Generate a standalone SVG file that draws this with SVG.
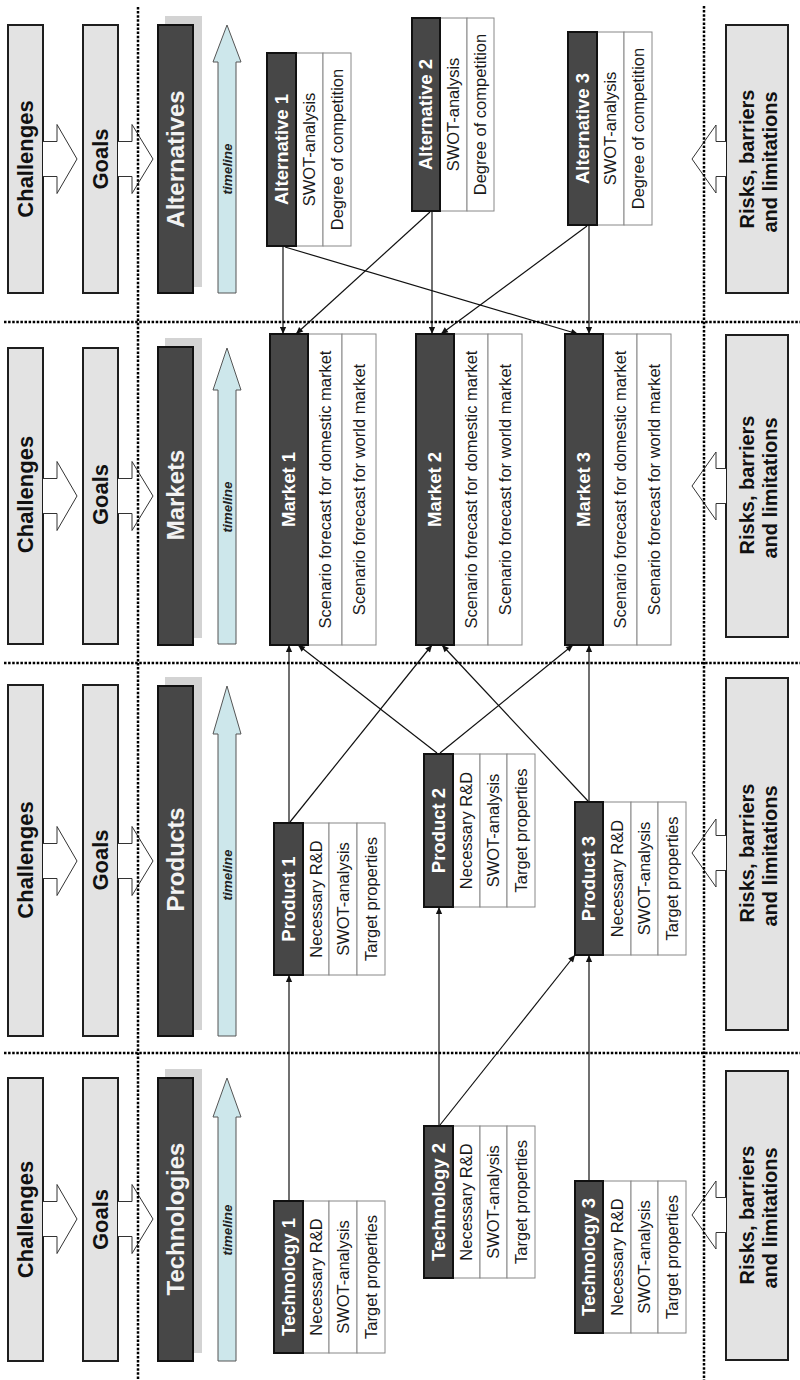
<svg xmlns="http://www.w3.org/2000/svg" width="800" height="1380" viewBox="0 0 800 1380">
<defs>
<style>
.dotted{stroke:#000;stroke-width:2.5;stroke-dasharray:2.5 1.6;fill:none}
.lbox{fill:#e3e3e3;stroke:#1e1e1e;stroke-width:2}
.dbox{fill:#474747;stroke:#111;stroke-width:2}
.shadow{fill:#d3d3d3}
.tl{fill:#cde7eb;stroke:#555;stroke-width:1}
.barrow{fill:#fff;stroke:#333;stroke-width:1}
.hdr{fill:#474747;stroke:#111;stroke-width:2}
.cell{fill:#fff;stroke:#888;stroke-width:1}
.conn{stroke:#111;stroke-width:1.2;fill:none;marker-end:url(#ah)}
text{font-family:"Liberation Sans",Arial,sans-serif;text-anchor:middle}
.tbig{font-size:22px;font-weight:bold;fill:#111}
.tsec{font-size:24px;font-weight:bold;fill:#f2f2f2}
.trisk{font-size:20px;font-weight:bold;fill:#111}
.thdr{font-size:18.5px;font-weight:bold;fill:#fff}
.tcell{font-size:16.5px;fill:#1a1a1a}
.ttl{font-size:13.5px;font-weight:bold;font-style:italic;fill:#222}
</style>
<marker id="ah" viewBox="0 0 10 10" refX="10" refY="5" markerWidth="8" markerHeight="7" markerUnits="userSpaceOnUse" orient="auto"><path d="M0,0.5 L10,5 L0,9.5 z" fill="#111"/></marker>
</defs>

<!-- Left column: Alternatives section -->
<g id="sec-alt">
<rect class="lbox" x="8" y="25" width="35" height="268"/>
<text class="tbig" transform="translate(25.5,159) rotate(-90)" dy="0.35em">Challenges</text>
<path class="barrow" d="M43,141.5 H57 V124.5 L77,159 L57,193.5 V176.5 H43"/>
<rect class="lbox" x="83" y="25" width="35" height="268"/>
<text class="tbig" transform="translate(100.5,159) rotate(-90)" dy="0.35em">Goals</text>
<path class="barrow" d="M118,141.5 H132 V124.5 L153,159 L132,193.5 V176.5 H118"/>
<rect class="shadow" x="165" y="16" width="37" height="271"/>
<rect class="dbox" x="158" y="25" width="35" height="268"/>
<text class="tsec" transform="translate(175.5,159) rotate(-90)" dy="0.35em">Alternatives</text>
<path class="tl" d="M218,293 V62 H213 L227,25 L241,62 H236 V293 Z"/>
<text class="ttl" transform="translate(227,169) rotate(-90)" dy="0.35em">timeline</text>
<rect class="lbox" x="726" y="25" width="62" height="268"/>
<text class="trisk" transform="translate(747,159) rotate(-90)" dy="0.35em">Risks, barriers</text>
<text class="trisk" transform="translate(770,162) rotate(-90)" dy="0.35em">and limitations</text>
<path class="barrow" d="M726,141.5 H716 V125 L692,159 L716,193 V176.5 H726"/>
</g>

<g id="sec-markets">
<rect class="lbox" x="8" y="348" width="35" height="296"/>
<text class="tbig" transform="translate(25.5,494.5) rotate(-90)" dy="0.35em">Challenges</text>
<path class="barrow" d="M43,478.5 H57 V461.5 L77,496 L57,530.5 V513.5 H43"/>
<rect class="lbox" x="83" y="348" width="35" height="296"/>
<text class="tbig" transform="translate(100.5,494.5) rotate(-90)" dy="0.35em">Goals</text>
<path class="barrow" d="M118,478.5 H132 V461.5 L153,496 L132,530.5 V513.5 H118"/>
<rect class="shadow" x="165" y="338" width="37" height="300"/>
<rect class="dbox" x="158" y="347" width="35" height="298"/>
<text class="tsec" transform="translate(175.5,495) rotate(-90)" dy="0.35em">Markets</text>
<path class="tl" d="M218,644 V390 H213 L227,348 L241,390 H236 V644 Z"/>
<text class="ttl" transform="translate(227,507) rotate(-90)" dy="0.35em">timeline</text>
<rect class="lbox" x="726" y="335" width="62" height="302"/>
<text class="trisk" transform="translate(747,485) rotate(-90)" dy="0.35em">Risks, barriers</text>
<text class="trisk" transform="translate(770,488) rotate(-90)" dy="0.35em">and limitations</text>
<path class="barrow" d="M726,468.5 H716 V452 L692,486 L716,520 V503.5 H726"/>
</g>

<g id="sec-products">
<rect class="lbox" x="8" y="685" width="35" height="351"/>
<text class="tbig" transform="translate(25.5,860) rotate(-90)" dy="0.35em">Challenges</text>
<path class="barrow" d="M43,843.5 H57 V826.5 L77,861 L57,895.5 V878.5 H43"/>
<rect class="lbox" x="83" y="685" width="35" height="351"/>
<text class="tbig" transform="translate(100.5,860) rotate(-90)" dy="0.35em">Goals</text>
<path class="barrow" d="M118,843.5 H132 V826.5 L153,861 L132,895.5 V878.5 H118"/>
<rect class="shadow" x="165" y="677" width="37" height="353"/>
<rect class="dbox" x="158" y="686" width="35" height="350"/>
<text class="tsec" transform="translate(175.5,859.5) rotate(-90)" dy="0.35em">Products</text>
<path class="tl" d="M218,1036 V734 H213 L227,686 L241,734 H236 V1036 Z"/>
<text class="ttl" transform="translate(227,875) rotate(-90)" dy="0.35em">timeline</text>
<rect class="lbox" x="726" y="678" width="62" height="352"/>
<text class="trisk" transform="translate(747,853) rotate(-90)" dy="0.35em">Risks, barriers</text>
<text class="trisk" transform="translate(770,856) rotate(-90)" dy="0.35em">and limitations</text>
<path class="barrow" d="M726,835.5 H716 V819 L692,853 L716,887 V870.5 H726"/>
</g>

<g id="sec-technologies">
<rect class="lbox" x="8" y="1078" width="35" height="283"/>
<text class="tbig" transform="translate(25.5,1219.5) rotate(-90)" dy="0.35em">Challenges</text>
<path class="barrow" d="M43,1201.5 H57 V1184.5 L77,1219 L57,1253.5 V1236.5 H43"/>
<rect class="lbox" x="83" y="1078" width="35" height="283"/>
<text class="tbig" transform="translate(100.5,1219.5) rotate(-90)" dy="0.35em">Goals</text>
<path class="barrow" d="M118,1201.5 H132 V1184.5 L153,1219 L132,1253.5 V1236.5 H118"/>
<rect class="shadow" x="165" y="1069" width="37" height="284"/>
<rect class="dbox" x="158" y="1078" width="35" height="283"/>
<text class="tsec" transform="translate(175.5,1219) rotate(-90)" dy="0.35em">Technologies</text>
<path class="tl" d="M218,1361 V1117 H213 L227,1078 L241,1117 H236 V1361 Z"/>
<text class="ttl" transform="translate(227,1230) rotate(-90)" dy="0.35em">timeline</text>
<rect class="lbox" x="726" y="1071" width="62" height="289"/>
<text class="trisk" transform="translate(747,1215) rotate(-90)" dy="0.35em">Risks, barriers</text>
<text class="trisk" transform="translate(770,1218) rotate(-90)" dy="0.35em">and limitations</text>
<path class="barrow" d="M726,1197.5 H716 V1181 L692,1215 L716,1249 V1232.5 H726"/>
</g>

<!-- Alternatives nodes -->
<g id="alternative-1">
<rect class="cell" x="296" y="53" width="27" height="193"/><rect class="cell" x="323" y="53" width="28" height="193"/>
<rect class="hdr" x="267" y="53" width="29" height="193"/>
<text class="thdr" transform="translate(281.5,149.5) rotate(-90)" dy="0.35em">Alternative 1</text>
<text class="tcell" transform="translate(309.5,149.5) rotate(-90)" dy="0.35em">SWOT-analysis</text>
<text class="tcell" transform="translate(337,149.5) rotate(-90)" dy="0.35em">Degree of competition</text>
</g>
<g id="alternative-2">
<rect class="cell" x="440" y="18" width="27" height="193"/><rect class="cell" x="467" y="18" width="27" height="193"/>
<rect class="hdr" x="412" y="18" width="28" height="193"/>
<text class="thdr" transform="translate(426,114.5) rotate(-90)" dy="0.35em">Alternative 2</text>
<text class="tcell" transform="translate(453.5,114.5) rotate(-90)" dy="0.35em">SWOT-analysis</text>
<text class="tcell" transform="translate(480.5,114.5) rotate(-90)" dy="0.35em">Degree of competition</text>
</g>
<g id="alternative-3">
<rect class="cell" x="597" y="32" width="27" height="193"/><rect class="cell" x="624" y="32" width="28" height="193"/>
<rect class="hdr" x="568" y="32" width="29" height="193"/>
<text class="thdr" transform="translate(582.5,128.5) rotate(-90)" dy="0.35em">Alternative 3</text>
<text class="tcell" transform="translate(610.5,128.5) rotate(-90)" dy="0.35em">SWOT-analysis</text>
<text class="tcell" transform="translate(638,128.5) rotate(-90)" dy="0.35em">Degree of competition</text>
</g>

<!-- Markets nodes -->
<g id="market-1">
<rect class="cell" x="308" y="334" width="34" height="311"/><rect class="cell" x="342" y="334" width="34" height="311"/>
<rect class="hdr" x="270" y="334" width="38" height="311"/>
<text class="thdr" transform="translate(289,489.5) rotate(-90)" dy="0.35em">Market 1</text>
<text class="tcell" transform="translate(325,489.5) rotate(-90)" dy="0.35em">Scenario forecast for domestic market</text>
<text class="tcell" transform="translate(359,489.5) rotate(-90)" dy="0.35em">Scenario forecast for world market</text>
</g>
<g id="market-2">
<rect class="cell" x="454" y="334" width="34" height="311"/><rect class="cell" x="488" y="334" width="34" height="311"/>
<rect class="hdr" x="416" y="334" width="38" height="311"/>
<text class="thdr" transform="translate(435,489.5) rotate(-90)" dy="0.35em">Market 2</text>
<text class="tcell" transform="translate(471,489.5) rotate(-90)" dy="0.35em">Scenario forecast for domestic market</text>
<text class="tcell" transform="translate(505,489.5) rotate(-90)" dy="0.35em">Scenario forecast for world market</text>
</g>
<g id="market-3">
<rect class="cell" x="603" y="334" width="34" height="311"/><rect class="cell" x="637" y="334" width="34" height="311"/>
<rect class="hdr" x="565" y="334" width="38" height="311"/>
<text class="thdr" transform="translate(584,489.5) rotate(-90)" dy="0.35em">Market 3</text>
<text class="tcell" transform="translate(620,489.5) rotate(-90)" dy="0.35em">Scenario forecast for domestic market</text>
<text class="tcell" transform="translate(654,489.5) rotate(-90)" dy="0.35em">Scenario forecast for world market</text>
</g>

<!-- Products nodes -->
<g id="product-1">
<rect class="cell" x="303" y="823" width="26" height="152"/><rect class="cell" x="329" y="823" width="28" height="152"/><rect class="cell" x="357" y="823" width="28" height="152"/>
<rect class="hdr" x="274" y="823" width="29" height="152"/>
<text class="thdr" transform="translate(288.5,899) rotate(-90)" dy="0.35em">Product 1</text>
<text class="tcell" transform="translate(316,899) rotate(-90)" dy="0.35em">Necessary R&amp;D</text>
<text class="tcell" transform="translate(343,899) rotate(-90)" dy="0.35em">SWOT-analysis</text>
<text class="tcell" transform="translate(371,899) rotate(-90)" dy="0.35em">Target properties</text>
</g>
<g id="product-2">
<rect class="cell" x="453" y="754" width="27" height="153"/><rect class="cell" x="480" y="754" width="27" height="153"/><rect class="cell" x="507" y="754" width="28" height="153"/>
<rect class="hdr" x="424" y="754" width="29" height="153"/>
<text class="thdr" transform="translate(438.5,830.5) rotate(-90)" dy="0.35em">Product 2</text>
<text class="tcell" transform="translate(466.5,830.5) rotate(-90)" dy="0.35em">Necessary R&amp;D</text>
<text class="tcell" transform="translate(493.5,830.5) rotate(-90)" dy="0.35em">SWOT-analysis</text>
<text class="tcell" transform="translate(521,830.5) rotate(-90)" dy="0.35em">Target properties</text>
</g>
<g id="product-3">
<rect class="cell" x="603" y="802" width="28" height="153"/><rect class="cell" x="631" y="802" width="27" height="153"/><rect class="cell" x="658" y="802" width="28" height="153"/>
<rect class="hdr" x="575" y="802" width="28" height="153"/>
<text class="thdr" transform="translate(589,878.5) rotate(-90)" dy="0.35em">Product 3</text>
<text class="tcell" transform="translate(617,878.5) rotate(-90)" dy="0.35em">Necessary R&amp;D</text>
<text class="tcell" transform="translate(644.5,878.5) rotate(-90)" dy="0.35em">SWOT-analysis</text>
<text class="tcell" transform="translate(672,878.5) rotate(-90)" dy="0.35em">Target properties</text>
</g>

<!-- Technologies nodes -->
<g id="technology-1">
<rect class="cell" x="303" y="1201" width="26" height="152"/><rect class="cell" x="329" y="1201" width="28" height="152"/><rect class="cell" x="357" y="1201" width="28" height="152"/>
<rect class="hdr" x="274" y="1201" width="29" height="152"/>
<text class="thdr" transform="translate(288.5,1277) rotate(-90)" dy="0.35em">Technology 1</text>
<text class="tcell" transform="translate(316,1277) rotate(-90)" dy="0.35em">Necessary R&amp;D</text>
<text class="tcell" transform="translate(343,1277) rotate(-90)" dy="0.35em">SWOT-analysis</text>
<text class="tcell" transform="translate(371,1277) rotate(-90)" dy="0.35em">Target properties</text>
</g>
<g id="technology-2">
<rect class="cell" x="453" y="1126" width="27" height="152"/><rect class="cell" x="480" y="1126" width="27" height="152"/><rect class="cell" x="507" y="1126" width="28" height="152"/>
<rect class="hdr" x="424" y="1126" width="29" height="152"/>
<text class="thdr" transform="translate(438.5,1202) rotate(-90)" dy="0.35em">Technology 2</text>
<text class="tcell" transform="translate(466.5,1202) rotate(-90)" dy="0.35em">Necessary R&amp;D</text>
<text class="tcell" transform="translate(493.5,1202) rotate(-90)" dy="0.35em">SWOT-analysis</text>
<text class="tcell" transform="translate(521,1202) rotate(-90)" dy="0.35em">Target properties</text>
</g>
<g id="technology-3">
<rect class="cell" x="603" y="1181" width="28" height="152"/><rect class="cell" x="631" y="1181" width="27" height="152"/><rect class="cell" x="658" y="1181" width="28" height="152"/>
<rect class="hdr" x="575" y="1181" width="28" height="152"/>
<text class="thdr" transform="translate(589,1257) rotate(-90)" dy="0.35em">Technology 3</text>
<text class="tcell" transform="translate(617,1257) rotate(-90)" dy="0.35em">Necessary R&amp;D</text>
<text class="tcell" transform="translate(644.5,1257) rotate(-90)" dy="0.35em">SWOT-analysis</text>
<text class="tcell" transform="translate(672,1257) rotate(-90)" dy="0.35em">Target properties</text>
</g>

<g id="connectors">
<line class="conn" x1="283" y1="247" x2="283" y2="334"/>
<line class="conn" x1="285" y1="247" x2="578" y2="334"/>
<line class="conn" x1="432" y1="212" x2="432" y2="334"/>
<line class="conn" x1="430" y1="212" x2="296" y2="334"/>
<line class="conn" x1="589" y1="226" x2="589" y2="334"/>
<line class="conn" x1="587" y1="226" x2="441" y2="334"/>
<line class="conn" x1="289" y1="822" x2="289" y2="645"/>
<line class="conn" x1="290" y1="822" x2="432" y2="645"/>
<line class="conn" x1="437" y1="753" x2="298" y2="645"/>
<line class="conn" x1="440" y1="753" x2="573" y2="645"/>
<line class="conn" x1="589" y1="801" x2="589" y2="645"/>
<line class="conn" x1="588" y1="801" x2="442" y2="645"/>
<line class="conn" x1="289" y1="1200" x2="289" y2="975"/>
<line class="conn" x1="439" y1="1125" x2="439" y2="907"/>
<line class="conn" x1="440" y1="1125" x2="575" y2="955"/>
<line class="conn" x1="589" y1="1180" x2="589" y2="955"/>
</g>

<g id="dividers">
<line class="dotted" x1="138" y1="7" x2="138" y2="1380"/>
<line class="dotted" x1="704" y1="6" x2="704" y2="1380"/>
<line class="dotted" x1="4" y1="322" x2="800" y2="322"/>
<line class="dotted" x1="4" y1="663" x2="800" y2="663"/>
<line class="dotted" x1="4" y1="1053" x2="800" y2="1053"/>
</g>
</svg>
